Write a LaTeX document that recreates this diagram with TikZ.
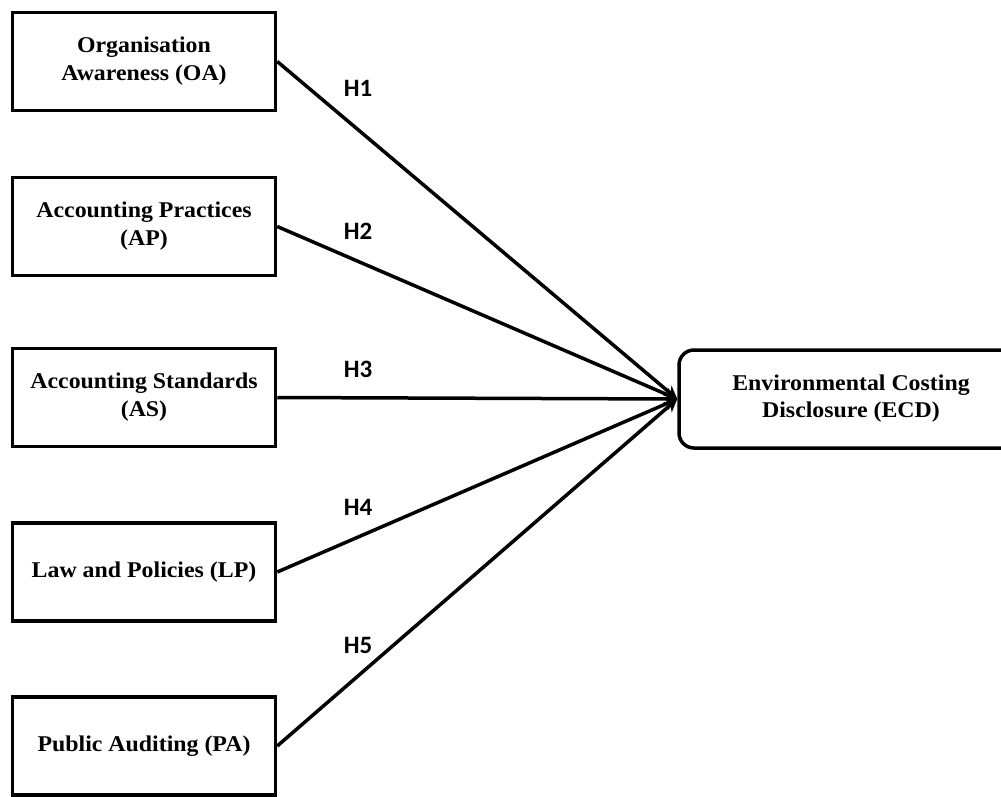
\documentclass[tikz,border=0pt]{standalone}
\usepackage{fontspec}
\setmainfont{Liberation Serif}
\newfontfamily\boxfont[FakeStretch=1.06]{Liberation Serif}
\newfontfamily\hypfont{Carlito}
\usetikzlibrary{arrows.meta}
\tikzset{
	%	box/.style={draw,rectangle},
	factor/.style={draw,line width=3.5pt,rectangle,minimum width=263pt,minimum height=98pt,
		align=center,font=\boxfont\bfseries\fontsize{22.5}{28}\selectfont,inner sep=0pt},
	outcome/.style={draw,line width=3.5pt,rectangle,rounded corners=15pt,minimum width=344pt,
		minimum height=98pt,align=center,font=\boxfont\bfseries\fontsize{22.5}{27}\selectfont},
	hyp/.style={font=\hypfont\bfseries\fontsize{25}{28}\selectfont,inner sep=0pt},
	edge/.style={-{Stealth[length=13pt,width=13pt]},line width=3.5pt}
}

\begin{document}
\begin{tikzpicture}[x=1pt,y=-1pt]
	\clip (0,0) rectangle (1001,796);
	\useasboundingbox (0,0) rectangle (1001,796);
	
	\node[factor] (oa) at (144, 61.5) {Organisation\\Awareness (OA)};
	\node[factor] (ap) at (144, 226.5) {Accounting Practices\\(AP)};
	\node[factor] (as) at (144, 397.5) {Accounting Standards\\(AS)};
	\node[factor] (lp) at (144, 572) {Law and Policies (LP)};
	\node[factor] (pa) at (144, 746) {Public Auditing (PA)};
	
	\node[outcome] (ecd) at (851, 399) {Environmental Costing\\Disclosure (ECD)};
	
	\draw[edge] (oa.east) to (ecd.west);
	\draw[edge] (ap.east) to (ecd.west);
	\draw[edge] (as.east) to (ecd.west);
	\draw[edge] (lp.east) to (ecd.west);
	\draw[edge] (pa.east) to (ecd.west);
	
	\node[hyp] (h1) at (358, 88) {H1};
	\node[hyp] (h2) at (358, 231) {H2};
	\node[hyp] (h3) at (358, 369.5) {H3};
	\node[hyp] (h4) at (358, 507.5) {H4};
	\node[hyp] (h5) at (358, 645.5) {H5};
\end{tikzpicture}
\end{document}
